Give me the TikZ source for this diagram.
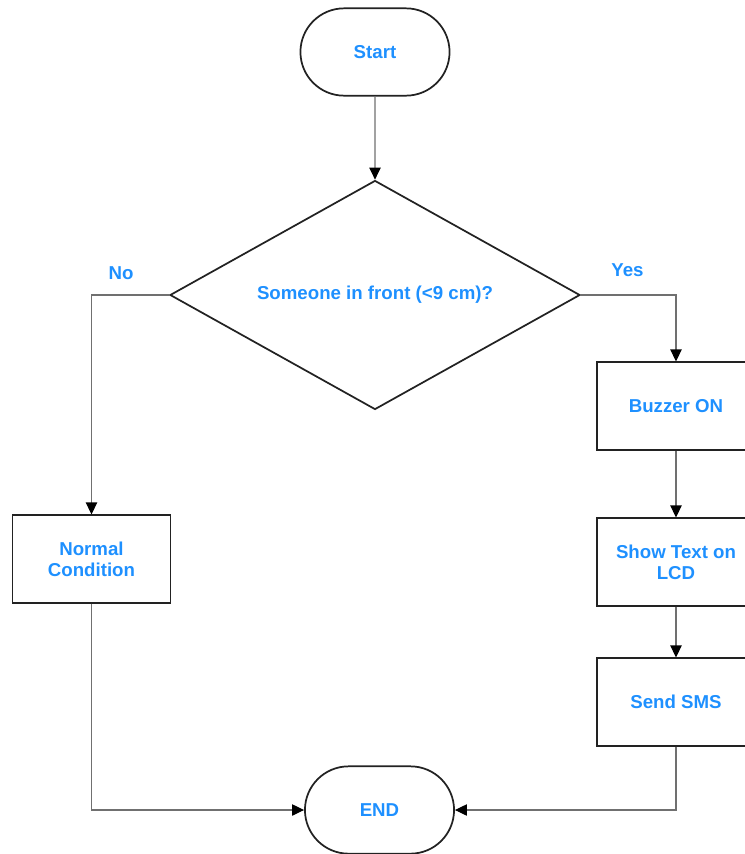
\documentclass[tikz,border=0pt]{standalone}
\usepackage{fontspec}
\setmainfont{Liberation Sans}
\usetikzlibrary{shapes.geometric,shapes.misc,arrows.meta}
\definecolor{textblue}{HTML}{1E90FF}
\definecolor{linegray}{HTML}{707070}
\definecolor{boxblack}{HTML}{222222}

\begin{document}
\begin{tikzpicture}[x=0.75pt, y=-0.75pt,
  every node/.style={font=\bfseries\fontsize{14}{16}\selectfont, text=textblue},
  terminal/.style={rounded rectangle, draw=boxblack, line width=1.3pt, minimum width=118.5pt, minimum height=65.5pt},
  process/.style={rectangle, draw=boxblack, line width=1.3pt, minimum width=118.5pt, minimum height=65.5pt, align=center},
  decision/.style={diamond, aspect=1.8, draw=boxblack, line width=1.3pt, inner sep=0pt, minimum width=307.5pt, minimum height=171.75pt},
  flow/.style={draw=linegray, line width=0.8pt, -{Triangle[black, length=9pt, width=8.5pt]}}]

\useasboundingbox (0,0) rectangle (745,854);

%Start
\node[terminal] (start) at (375,52) {Start};

%Decision
\node[decision] (front) at (375,295) {Someone in front (<9 cm)?};

%Normal
\node[process] (normal) at (91.5,559) {Normal\\Condition};

%Buzzer
\node[process] (buzzer) at (676,406) {Buzzer ON};

%LCD
\node[process] (lcd) at (676,562) {Show Text on\\LCD};

%SMS
\node[process] (sms) at (676,702) {Send SMS};

%End
\node[terminal] (end) at (379.5,810) {END};

%Flow
\draw[flow] (start) -- (front);
\draw[flow] (front.west) -| (normal) node[pos=0.31, above=7.5pt] {No};
\draw[flow] (front.east) -| (buzzer) node[pos=0.245, above=10pt] {Yes};
\draw[flow] (buzzer) -- (lcd);
\draw[flow] (lcd) -- (sms);
\draw[flow] (normal) |- (end);
\draw[flow] (sms) |- (end);

\end{tikzpicture}
\end{document}
